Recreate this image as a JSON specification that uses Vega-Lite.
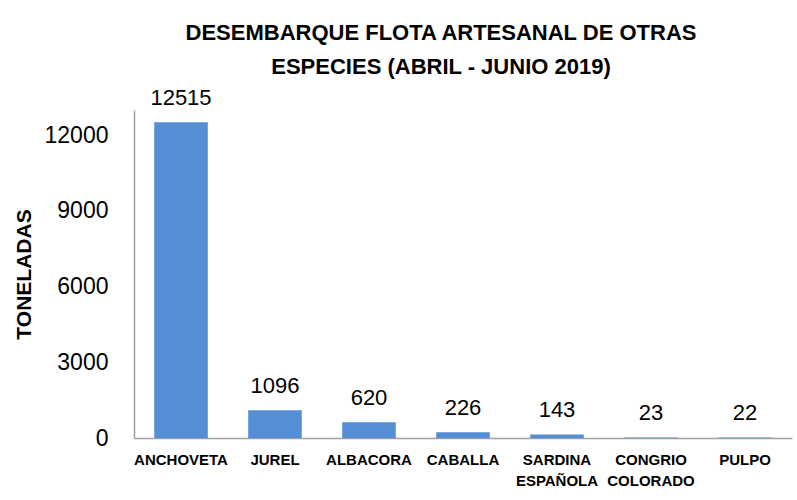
{
  "$schema": "https://vega.github.io/schema/vega-lite/v6.json",
  "width": 658,
  "height": 328,
  "autosize": {"type": "none"},
  "padding": {"left": 134, "top": 110, "right": 5, "bottom": 62},
  "background": "white",
  "config": {"view": {"stroke": null}, "font": "Liberation Sans, Arial, sans-serif"},
  "title": {
    "text": ["DESEMBARQUE FLOTA ARTESANAL DE OTRAS", "ESPECIES (ABRIL - JUNIO 2019)"],
    "fontSize": 22,
    "fontWeight": "bold",
    "color": "#000000",
    "font": "Liberation Sans, Arial, sans-serif",
    "anchor": "middle",
    "dx": -22,
    "lineHeight": 34,
    "offset": 8
  },
  "data": {
    "values": [
      {"especie": "ANCHOVETA", "toneladas": 12515},
      {"especie": "JUREL", "toneladas": 1096},
      {"especie": "ALBACORA", "toneladas": 620},
      {"especie": "CABALLA", "toneladas": 226},
      {"especie": "SARDINA ESPAÑOLA", "toneladas": 143},
      {"especie": "CONGRIO COLORADO", "toneladas": 23},
      {"especie": "PULPO", "toneladas": 22}
    ]
  },
  "encoding": {
    "x": {
      "field": "especie",
      "type": "nominal",
      "sort": null,
      "scale": {"paddingInner": 0.43, "paddingOuter": 0.215},
      "axis": {
        "title": null,
        "labelAngle": 0,
        "labelExpr": "split(datum.label, ' ')",
        "labelFont": "Liberation Sans, Arial, sans-serif",
        "labelFontSize": 15,
        "labelFontWeight": "bold",
        "labelColor": "#000000",
        "labelLineHeight": 21,
        "labelPadding": 14,
        "ticks": false,
        "domainColor": "#a0a0a0",
        "domainWidth": 1.5
      }
    },
    "y": {
      "field": "toneladas",
      "type": "quantitative",
      "scale": {"domain": [0, 13000], "nice": false},
      "axis": {
        "values": [0, 3000, 6000, 9000, 12000],
        "format": "d",
        "title": "TONELADAS",
        "titleFont": "Liberation Sans, Arial, sans-serif",
        "titleFontSize": 21,
        "titleFontWeight": "bold",
        "titleColor": "#000000",
        "titlePadding": 10,
        "labelFont": "Liberation Sans, Arial, sans-serif",
        "labelFontSize": 23,
        "labelColor": "#000000",
        "labelPadding": 26,
        "ticks": false,
        "grid": false,
        "domainColor": "#a0a0a0",
        "domainWidth": 1.5
      }
    }
  },
  "layer": [
    {"mark": {"type": "bar", "color": "#558ed5"}},
    {
      "mark": {"type": "text", "baseline": "bottom", "dy": -12, "fontSize": 22, "color": "#000000", "font": "Liberation Sans, Arial, sans-serif"},
      "encoding": {"text": {"field": "toneladas", "type": "quantitative", "format": "d"}}
    }
  ]
}
